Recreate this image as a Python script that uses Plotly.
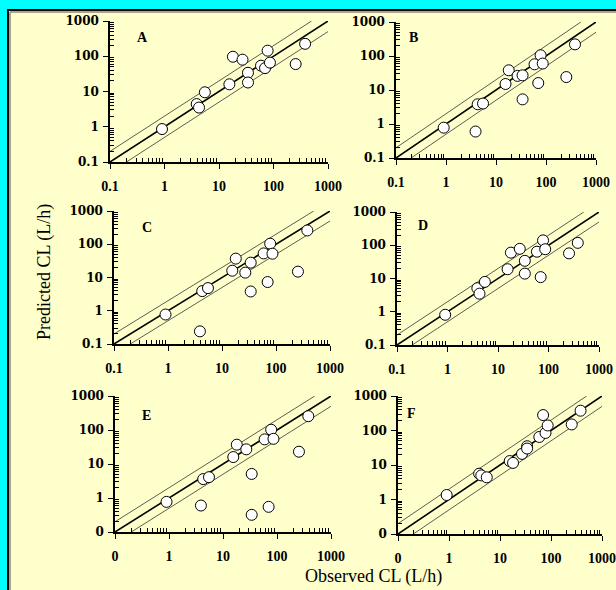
import plotly.graph_objects as go

# ---------------- data ----------------
observed = [0.9, 3.9, 4.3, 5.5, 15.5, 18, 27, 34, 34, 59, 70, 78, 86, 255, 380]

pred_A = [0.86, 4.4, 3.5, 9.5, 16, 97, 80, 34, 18, 54, 46, 144, 66, 60, 225]
pred_B = [0.78, 0.6, 3.8, 4.0, 15, 38, 26, 27, 5.3, 57, 16, 105, 60, 24, 220]
pred_C = [0.77, 0.24, 3.9, 4.8, 16, 37, 14, 28, 3.8, 53, 7.3, 104, 52, 15, 260]
pred_D = [0.81, 5.1, 3.5, 7.9, 19, 60, 78, 34, 14, 64, 11, 140, 76, 57, 118]
pred_E = [0.77, 0.6, 3.6, 4.1, 16, 37, 27, 5.1, 0.32, 53, 0.55, 102, 55, 23, 255]
pred_F = [1.35, 5.6, 5.0, 4.4, 13, 11.5, 21, 35, 30, 65, 280, 85, 140, 150, 375]

panel_labels = ["A", "B", "C", "D", "E", "F"]
predictions = [pred_A, pred_B, pred_C, pred_D, pred_E, pred_F]

tick_vals = [0.1, 1, 10, 100, 1000]
tick_text_top = ["0.1", "1", "10", "100", "1000"]
tick_text_bottom = ["0", "1", "10", "100", "1000"]
fold = 2.0
axis_min, axis_max = 0.1, 1000

# ---------------- layout geometry (pixels) ----------------
W, H = 616, 590
# (left, right, top, bottom) of each plot area
boxes = [
    (110, 328, 21, 162),
    (396, 596, 22, 158),
    (114, 330, 211, 344),
    (397, 599, 212, 345),
    (115, 331, 396, 532),
    (398, 602, 396, 534),
]
letter_pos = [(142, 37), (413, 38), (147, 227), (423, 226), (146, 415), (411, 413)]

minor_vals = [m * 10 ** e for e in range(-1, 3) for m in range(2, 10)]

fig = go.Figure()

for i, (lab, pred) in enumerate(zip(panel_labels, predictions)):
    n = i + 1
    xa = "x" if n == 1 else f"x{n}"
    ya = "y" if n == 1 else f"y{n}"
    fig.add_trace(go.Scatter(x=[axis_min, axis_max], y=[axis_min, axis_max], mode="lines",
                             line=dict(color="black", width=1.6), xaxis=xa, yaxis=ya,
                             showlegend=False, hoverinfo="skip"))
    fig.add_trace(go.Scatter(x=[axis_min, axis_max / fold], y=[axis_min * fold, axis_max], mode="lines",
                             line=dict(color="#333333", width=0.8), xaxis=xa, yaxis=ya,
                             showlegend=False, hoverinfo="skip"))
    fig.add_trace(go.Scatter(x=[axis_min * fold, axis_max], y=[axis_min, axis_max / fold], mode="lines",
                             line=dict(color="#333333", width=0.8), xaxis=xa, yaxis=ya,
                             showlegend=False, hoverinfo="skip"))
    fig.add_trace(go.Scatter(x=observed, y=pred, mode="markers",
                             marker=dict(size=11, color="white", line=dict(color="black", width=1)),
                             xaxis=xa, yaxis=ya, showlegend=False))

    l, r, t, b = boxes[i]
    ticktext = tick_text_top if i < 4 else tick_text_bottom
    common = dict(type="log", range=[-1, 3], showgrid=False, zeroline=False,
                  showline=True, linecolor="black", linewidth=1.5, automargin=False,
                  tickmode="array", tickvals=tick_vals, ticktext=ticktext,
                  ticks="outside", ticklen=5, tickwidth=1.2, tickcolor="black",
                  minor=dict(tickmode="array", tickvals=minor_vals, ticks="inside",
                             ticklen=4, tickwidth=1, tickcolor="black", showgrid=False),
                  fixedrange=True)
    xkey = "xaxis" if n == 1 else f"xaxis{n}"
    ykey = "yaxis" if n == 1 else f"yaxis{n}"
    fig.layout[xkey] = dict(common, domain=[l / W, r / W], anchor=ya,
                            tickfont=dict(family="Liberation Serif", size=14, color="black", weight="bold"),
                            ticklabelstandoff=5)
    fig.layout[ykey] = dict(common, domain=[1 - b / H, 1 - t / H], anchor=xa,
                            tickfont=dict(family="DejaVu Serif", size=12, color="black", weight="bold"),
                            ticklabelstandoff=2)
    fig.add_shape(type="rect", xref=f"{xa} domain", yref=f"{ya} domain",
                  x0=0, x1=1, y0=0, y1=1, line=dict(color="#8a8a8a", width=1), layer="below")
    lx, ly = letter_pos[i]
    fig.add_annotation(x=lx / W, y=1 - ly / H, xref="paper", yref="paper", text=lab,
                       showarrow=False, xanchor="center", yanchor="middle",
                       font=dict(family="Liberation Serif", size=14, color="black", weight="bold"))

# background panel with border (kept inside the paper)
fig.add_shape(type="rect", xref="paper", yref="paper", x0=8 / W, x1=1, y0=0, y1=1 - 10 / H,
              line=dict(width=0), fillcolor="#FFFFCC", layer="below")
fig.add_shape(type="line", xref="paper", yref="paper", x0=8 / W, x1=8 / W, y0=0, y1=1 - 9 / H,
              line=dict(color="black", width=2), layer="below")
fig.add_shape(type="line", xref="paper", yref="paper", x0=7 / W, x1=1, y0=1 - 10 / H, y1=1 - 10 / H,
              line=dict(color="black", width=2), layer="below")
fig.add_shape(type="line", xref="paper", yref="paper", x0=10 / W, x1=10 / W, y0=0, y1=1 - 12 / H,
              line=dict(color="#8a8a7a", width=1.5), layer="below")
fig.add_shape(type="line", xref="paper", yref="paper", x0=10 / W, x1=1, y0=1 - 12 / H, y1=1 - 12 / H,
              line=dict(color="#8a8a7a", width=1.5), layer="below")

fig.add_annotation(x=44 / W, y=1 - 272 / H, xref="paper", yref="paper", text="Predicted CL (L/h)",
                   textangle=-90, showarrow=False, xanchor="center", yanchor="middle",
                   font=dict(family="Liberation Serif", size=18, color="black"))
fig.add_annotation(x=374 / W, y=1 - 588 / H, xref="paper", yref="paper", text="Observed CL (L/h)",
                   showarrow=False, xanchor="center", yanchor="bottom", borderpad=0,
                   font=dict(family="Liberation Serif", size=18, color="black"))

fig.update_layout(width=W, height=H, margin=dict(l=0, r=0, t=0, b=0, autoexpand=False),
                  paper_bgcolor="#00FFFF", plot_bgcolor="rgba(0,0,0,0)", showlegend=False)

post = ("document.documentElement.style.margin='0';document.body.style.margin='0';"
        "document.body.style.padding='0';document.body.style.overflow='hidden';"
        "document.documentElement.style.overflow='hidden';"
        "var gd=document.getElementById('{plot_id}');"
        "gd.style.position='fixed';gd.style.left='0px';gd.style.top='0px';")

fig.write_html("out.html", config={"displayModeBar": False}, post_script=post)
